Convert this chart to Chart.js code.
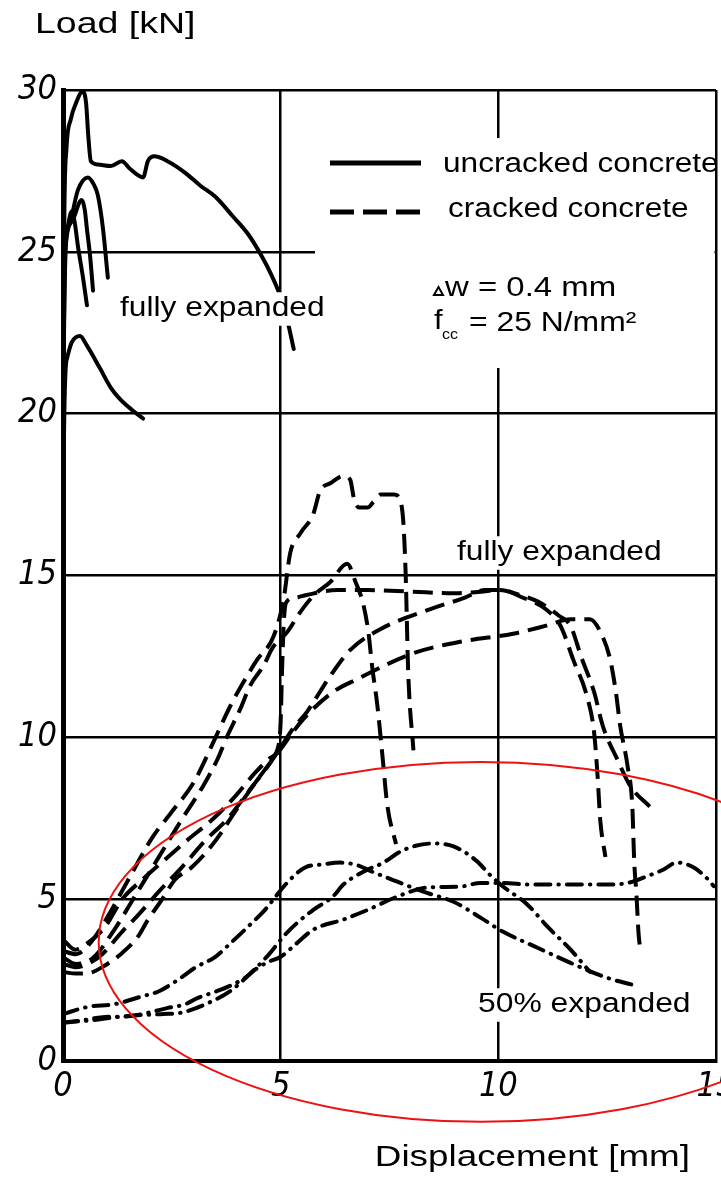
<!DOCTYPE html>
<html>
<head>
<meta charset="utf-8">
<title>Load vs displacement</title>
<script src="https://cdn.jsdelivr.net/npm/chart.js@4.4.1/dist/chart.umd.min.js"></script>
<style>
  html, body { margin: 0; padding: 0; background: #fff; }
  #wrap { position: relative; width: 721px; height: 1179px; }
</style>
</head>
<body>
<div id="wrap"><canvas id="loadChart"></canvas></div>
<script>
// axis ticks
const xTicks = [0, 5, 10, 15];
const yTicks = [0, 5, 10, 15, 20, 25, 30];

// uncracked concrete, fully expanded (solid) - [displacement mm, load kN]
const uncracked1 = [[0,0],[0.01,20],[0.03,26],[0.08,28.2],[0.18,29.1],[0.3,29.6],[0.45,29.95],[0.53,29.6],[0.58,28.6],[0.64,27.8],[0.8,27.7],[1.1,27.65],[1.35,27.8],[1.55,27.55],[1.84,27.3],[1.95,27.8],[2.1,27.95],[2.4,27.8],[2.8,27.45],[3.15,27.05],[3.5,26.7],[3.9,26.1],[4.25,25.55],[4.55,24.9],[4.8,24.25],[5.0,23.6],[5.15,22.9],[5.3,22.0]];
const uncracked2 = [[0,0],[0.02,22],[0.05,25.2],[0.16,25.9],[0.34,26.9],[0.57,27.3],[0.7,27.1],[0.8,26.75],[0.92,25.7],[1.03,24.2]];
const uncracked3 = [[0,0],[0.02,22],[0.05,25.0],[0.23,26.0],[0.43,26.6],[0.5,26.3],[0.55,25.7],[0.62,24.9],[0.69,23.8]];
const uncracked4 = [[0,0],[0.02,22],[0.1,25.7],[0.2,26.25],[0.27,25.9],[0.34,25.2],[0.46,24.2],[0.55,23.35]];
const uncracked5 = [[0,0],[0.02,19],[0.09,21.7],[0.2,22.2],[0.39,22.4],[0.55,22.1],[0.85,21.4],[1.1,20.8],[1.31,20.45],[1.6,20.1],[1.84,19.85]];

// cracked concrete, fully expanded (dashed)
const cracked1 = [[0,3.4],[0.3,3.3],[0.6,3.6],[1.0,4.4],[1.5,5.6],[2.05,6.9],[2.5,7.7],[3.0,8.6],[3.54,10.1],[3.84,10.96],[4.23,11.9],[4.46,12.4],[4.83,13.1],[5.06,14.2],[5.22,15.7],[5.45,16.3],[5.75,16.9],[5.9,17.6],[6.14,17.85],[6.45,18.08],[6.6,17.95],[6.68,17.4],[6.8,17.1],[7.0,17.1],[7.13,17.27],[7.3,17.5],[7.6,17.5],[7.75,17.3],[7.82,16.6],[7.87,15.1],[7.93,12.0],[8.05,9.6]];
const cracked2 = [[0,3.2],[0.3,3.0],[0.7,3.2],[1.2,4.1],[1.7,5.2],[2.2,6.3],[2.7,7.4],[3.22,8.5],[3.54,9.3],[3.77,10.03],[4.07,10.87],[4.3,11.6],[4.6,12.2],[4.83,12.8],[5.15,13.25],[5.45,13.87],[5.75,14.37],[6.14,14.8],[6.53,15.36],[6.72,14.8],[6.9,14.1],[7.02,13.2],[7.1,12.2],[7.22,11.0],[7.34,9.4],[7.45,7.9],[7.65,6.7]];
const cracked3 = [[0,3.75],[0.28,3.44],[0.57,3.65],[0.97,4.15],[1.36,5.0],[1.82,5.6],[2.34,6.22],[2.87,6.84],[3.43,7.46],[3.95,8.17],[4.41,8.9],[4.75,9.35],[4.95,9.75],[5.0,10.5],[5.03,12.0],[5.07,13.5],[5.12,14.15],[5.3,14.3],[5.6,14.4],[6.3,14.55],[7.0,14.55],[8.0,14.5],[9.0,14.45],[9.6,14.5],[10.0,14.55],[10.5,14.4],[10.9,14.2],[11.4,13.75],[11.66,13.44],[11.9,12.5],[12.2,11.4],[12.4,10.35],[12.74,9.3],[13.03,8.5],[13.5,7.83]];
const cracked4 = [[0,3.0],[0.28,2.9],[0.57,3.0],[0.9,3.3],[1.36,4.0],[1.72,4.5],[2.18,5.2],[2.74,6.0],[3.26,6.8],[3.79,7.5],[4.3,8.4],[4.7,9.1],[4.98,9.65],[5.3,10.3],[5.6,10.78],[6.14,11.9],[6.6,12.7],[7.3,13.35],[8.44,13.96],[9.2,14.3],[9.7,14.55],[10.1,14.55],[10.5,14.35],[11.1,13.95],[11.43,13.44],[11.72,12.4],[12.05,11.2],[12.2,10.15],[12.28,8.8],[12.34,7.46],[12.46,6.3]];
const cracked5 = [[0,2.75],[0.3,2.7],[0.6,2.72],[0.9,2.9],[1.36,3.34],[1.72,3.84],[1.95,4.36],[2.28,5.0],[2.57,5.6],[2.97,6.0],[3.5,6.8],[4.0,7.8],[4.5,8.75],[4.95,9.55],[5.52,10.56],[6.2,11.4],[6.76,11.8],[8.05,12.6],[9.2,12.97],[10.34,13.2],[11.1,13.45],[11.66,13.65],[12.1,13.65],[12.4,13.1],[12.57,12.4],[12.7,11.4],[12.8,10.35],[12.97,9.1],[13.08,7.8],[13.12,6.2],[13.17,5.2],[13.22,3.96],[13.26,3.44]];

// 50% expanded (dash-dot)
const half1 = [[0,1.45],[0.57,1.67],[1.2,1.76],[1.82,2.0],[2.18,2.14],[2.74,2.6],[3.03,2.88],[3.5,3.22],[3.88,3.68],[4.25,4.15],[4.64,4.67],[4.92,5.14],[5.17,5.54],[5.56,5.98],[5.95,6.07],[6.37,6.13],[6.76,6.05],[7.1,5.85],[7.68,5.54],[8.28,5.23],[8.97,4.92],[9.59,4.43],[10.1,4.0],[10.9,3.5],[11.66,3.03],[12.5,2.57],[13.1,2.35]];
const half2 = [[0,1.17],[0.5,1.27],[0.97,1.36],[1.5,1.38],[1.95,1.49],[2.41,1.64],[2.8,1.75],[3.1,1.95],[3.5,2.14],[3.88,2.35],[4.18,2.57],[4.41,2.82],[4.71,3.06],[5.0,3.22],[5.38,3.65],[5.75,4.06],[6.44,4.37],[7.0,4.67],[7.68,5.08],[8.37,5.36],[9.13,5.39],[9.59,5.5],[10.1,5.5],[10.74,5.45],[11.5,5.45],[12.4,5.45],[12.97,5.5],[13.4,5.7],[13.77,5.9],[14.1,6.13],[14.46,6.0],[14.78,5.66],[14.95,5.4]];
const half3 = [[0,1.2],[0.6,1.25],[1.2,1.35],[1.8,1.42],[2.3,1.45],[2.74,1.5],[3.43,1.85],[3.88,2.2],[4.34,2.75],[4.7,3.25],[5.1,3.9],[5.38,4.27],[5.75,4.67],[6.2,5.08],[6.44,5.45],[6.9,5.85],[7.36,6.13],[7.75,6.47],[8.1,6.65],[8.5,6.72],[8.97,6.63],[9.52,6.16],[9.77,5.8],[10.1,5.4],[10.67,4.83],[11.13,4.15],[11.66,3.44],[12.1,2.76]];

// annotation ellipse, in data units: centre x, centre y, half width, half height
const ringCentre = [9.6, 3.68];
const ringRadius = [8.78, 5.56];

const DASHED = [20, 9];
const DASHDOT = [15, 8, 0.5, 8];
const TXT = '"Liberation Sans", Arial, sans-serif';

function toPoints(arr) {
    return arr.map(p => ({ x: p[0], y: p[1] }));
}

function curve(arr, dash, cap) {
    return {
        data: toPoints(arr),
        borderColor: '#000',
        borderWidth: 4,
        borderDash: dash,
        borderCapStyle: cap,
        borderJoinStyle: 'round',
        pointRadius: 0,
        fill: false,
        cubicInterpolationMode: 'monotone'
    };
}

// scanned lettering is wider than Liberation Sans, so stretch it sideways
function label(ctx, text, x, y, size, sx, box) {
    ctx.save();
    ctx.font = size + 'px ' + TXT;
    const w = ctx.measureText(text).width * sx;
    const left = ctx.textAlign === 'right' ? x - w : x;
    if (box) {
        ctx.fillStyle = '#fff';
        ctx.fillRect(left - 5, y - size * 0.62, w + 10, size * 1.24);
    }
    ctx.translate(left, y);
    ctx.scale(sx, 1);
    ctx.textAlign = 'left';
    ctx.fillStyle = '#000';
    ctx.fillText(text, 0, 0);
    ctx.restore();
}

// legend area blanks out the grid behind it
const legendBox = {
    id: 'legendBox',
    beforeDatasetsDraw(chart) {
        const ctx = chart.ctx;
        ctx.save();
        ctx.fillStyle = '#fff';
        ctx.fillRect(315, 138, 399.5, 230);
        ctx.restore();
    }
};

const notes = {
    id: 'notes',
    afterDatasetsDraw(chart) {
        const ctx = chart.ctx;
        const xs = chart.scales.x, ys = chart.scales.y;
        ctx.save();
        ctx.textBaseline = 'middle';
        ctx.textAlign = 'left';

        // legend samples
        ctx.strokeStyle = '#000';
        ctx.lineWidth = 5;
        ctx.beginPath();
        ctx.moveTo(330, 163); ctx.lineTo(421, 163);
        ctx.stroke();
        ctx.setLineDash([24, 9]);
        ctx.beginPath();
        ctx.moveTo(330, 212); ctx.lineTo(421, 212);
        ctx.stroke();
        ctx.setLineDash([]);
        label(ctx, 'uncracked concrete', 443, 165, 27, 1.17, false);
        label(ctx, 'cracked concrete', 448, 210, 27, 1.17, false);

        // small triangle for delta
        ctx.lineWidth = 2;
        ctx.beginPath();
        ctx.moveTo(434, 295); ctx.lineTo(443, 295); ctx.lineTo(438.5, 287); ctx.closePath();
        ctx.stroke();
        label(ctx, 'w = 0.4 mm', 445, 289, 27, 1.22, false);
        label(ctx, 'f', 434, 322, 27, 1.15, false);
        label(ctx, 'cc', 442, 335, 14, 1.15, false);
        label(ctx, '= 25 N/mm\u00B2', 469, 324, 27, 1.18, false);

        label(ctx, 'fully expanded', 120, 309, 27, 1.175, true);
        label(ctx, 'fully expanded', 457, 553, 27, 1.175, true);
        label(ctx, '50% expanded', 478, 1005, 27, 1.18, true);

        // axis titles
        label(ctx, 'Load [kN]', 35, 25, 30, 1.25, false);
        ctx.textAlign = 'right';
        label(ctx, 'Displacement [mm]', 690, 1158, 29, 1.27, false);
        ctx.textAlign = 'left';

        // red annotation ring
        const cx = xs.getPixelForValue(ringCentre[0]);
        const cy = ys.getPixelForValue(ringCentre[1]);
        const rx = xs.getPixelForValue(ringCentre[0] + ringRadius[0]) - cx;
        const ry = cy - ys.getPixelForValue(ringCentre[1] + ringRadius[1]);
        ctx.strokeStyle = '#ee1111';
        ctx.lineWidth = 2;
        ctx.beginPath();
        ctx.ellipse(cx, cy, rx, ry, 0, 0, Math.PI * 2);
        ctx.stroke();
        ctx.restore();
    }
};

document.addEventListener('DOMContentLoaded', function() {
    const ctx = document.getElementById('loadChart').getContext('2d');

    const datasets = [
        curve(uncracked1, [], 'round'),
        curve(uncracked2, [], 'round'),
        curve(uncracked3, [], 'round'),
        curve(uncracked4, [], 'round'),
        curve(uncracked5, [], 'round'),
        curve(cracked1, DASHED, 'butt'),
        curve(cracked2, DASHED, 'butt'),
        curve(cracked3, DASHED, 'butt'),
        curve(cracked4, DASHED, 'butt'),
        curve(cracked5, DASHED, 'butt'),
        curve(half1, DASHDOT, 'round'),
        curve(half2, DASHDOT, 'round'),
        curve(half3, DASHDOT, 'round')
    ];

    const tickFont = { family: '"DejaVu Sans Condensed", "DejaVu Sans", sans-serif', size: 34, style: 'italic' };

    new Chart(ctx, {
        type: 'line',
        data: { datasets: datasets },
        options: {
            responsive: true,
            maintainAspectRatio: false,
            animation: false,
            events: [],
            layout: { padding: { top: 90, right: 5, bottom: 0, left: 0 } },
            plugins: { legend: { display: false }, tooltip: { enabled: false } },
            scales: {
                x: {
                    type: 'linear',
                    min: 0,
                    max: 15,
                    afterBuildTicks: s => { s.ticks = xTicks.map(v => ({ value: v })); },
                    afterFit: s => { s.height = 118; s.paddingLeft = 0; s.paddingRight = 0; },
                    grid: { color: '#000', lineWidth: 2.5, drawTicks: false },
                    border: { color: '#000', width: 4 },
                    ticks: { color: '#000', font: tickFont, padding: 6, maxRotation: 0 }
                },
                y: {
                    type: 'linear',
                    min: 0,
                    max: 30,
                    afterBuildTicks: s => { s.ticks = yTicks.map(v => ({ value: v })); },
                    afterFit: s => { s.width = 63; s.paddingTop = 0; s.paddingBottom = 0; },
                    grid: { color: '#000', lineWidth: 2.5, drawTicks: false },
                    border: { color: '#000', width: 5 },
                    ticks: { color: '#000', font: tickFont, padding: 6 }
                }
            }
        },
        plugins: [legendBox, notes]
    });
});
</script>
</body>
</html>
